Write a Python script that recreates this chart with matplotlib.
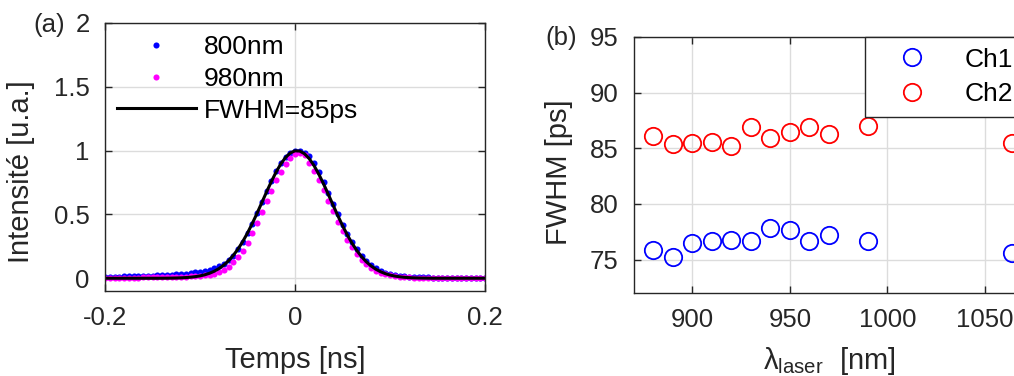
import matplotlib
matplotlib.use("Agg")
import matplotlib.pyplot as plt
import numpy as np

plt.rcParams['font.family'] = ['Liberation Sans', 'DejaVu Sans']
plt.rcParams['mathtext.default'] = 'regular'

# (a) pulse shapes, sampled every 5 ps from -0.2 to 0.2 ns
t_ns = np.round(np.arange(-0.2, 0.2001, 0.005), 3)

i_800 = [0.012, 0.012, 0.013, 0.013, 0.014, 0.015, 0.016, 0.017, 0.018, 0.019,
         0.021, 0.022, 0.024, 0.026, 0.028, 0.031, 0.034, 0.037, 0.041, 0.046,
         0.052, 0.059, 0.068, 0.079, 0.093, 0.112, 0.140, 0.178, 0.226, 0.284,
         0.352, 0.428, 0.510, 0.595, 0.680, 0.762, 0.838, 0.902, 0.952, 0.985,
         1.000, 1.000, 0.985, 0.955, 0.902, 0.833, 0.752, 0.668, 0.584, 0.500,
         0.420, 0.348, 0.283, 0.226, 0.178, 0.138, 0.105, 0.079, 0.059, 0.043,
         0.032, 0.024, 0.018, 0.014, 0.011, 0.009, 0.008, 0.007, 0.006, 0.005,
         0.005, 0.005, 0.004, 0.004, 0.004, 0.004, 0.003, 0.003, 0.003, 0.003,
         0.003]

i_980 = [0.003, 0.003, 0.003, 0.004, 0.004, 0.004, 0.005, 0.005, 0.006, 0.006,
         0.007, 0.008, 0.008, 0.009, 0.010, 0.011, 0.011, 0.013, 0.014, 0.016,
         0.018, 0.022, 0.027, 0.035, 0.046, 0.064, 0.090, 0.128, 0.168, 0.216,
         0.278, 0.352, 0.432, 0.517, 0.602, 0.686, 0.766, 0.836, 0.895, 0.942,
         0.972, 0.980, 0.962, 0.905, 0.840, 0.770, 0.690, 0.607, 0.524, 0.443,
         0.368, 0.301, 0.241, 0.188, 0.145, 0.109, 0.081, 0.059, 0.043, 0.031,
         0.022, 0.016, 0.011, 0.008, 0.006, 0.005, 0.004, 0.004, 0.004, 0.004,
         0.004, 0.004, 0.004, 0.004, 0.004, 0.004, 0.004, 0.004, 0.004, 0.004,
         0.004]

i_fit = [0.0, 0.0, 0.0, 0.0, 0.0, 0.0, 0.0, 0.0, 0.0, 0.0, 0.0, 0.0,
         0.0003, 0.0006, 0.0012, 0.0021, 0.0033, 0.0052, 0.0081, 0.0124, 0.0185,
         0.0270, 0.0389, 0.0548, 0.0758, 0.1028, 0.1368, 0.1786, 0.2287, 0.2874,
         0.3543, 0.4284, 0.5082, 0.5914, 0.6751, 0.7560, 0.8305, 0.8950, 0.9462,
         0.9814, 0.9985, 0.9965, 0.9757, 0.9372, 0.8831, 0.8163, 0.7402, 0.6584,
         0.5746, 0.4919, 0.4131, 0.3403, 0.2750, 0.2181, 0.1696, 0.1294, 0.0968,
         0.0711, 0.0512, 0.0362, 0.0251, 0.0171, 0.0114, 0.0074, 0.0048, 0.0030,
         0.0019, 0.0011, 0.0006,
         0.0, 0.0, 0.0, 0.0, 0.0, 0.0, 0.0, 0.0, 0.0, 0.0, 0.0, 0.0]

# (b) FWHM vs laser wavelength
wl = [880, 890, 900, 910, 920, 930, 940, 950, 960, 970, 990, 1064]
fwhm_ch1 = [75.9, 75.2, 76.5, 76.7, 76.8, 76.7, 77.8, 77.7, 76.7, 77.2, 76.7, 75.6]
fwhm_ch2 = [86.1, 85.4, 85.5, 85.6, 85.2, 86.9, 85.9, 86.5, 86.9, 86.3, 87.0, 85.5]

fs_tick = 18.5
fs_lab = 21
fs_leg = 19
grid_c = '#dcdcdc'
ax_c = '#262626'

fig = plt.figure(figsize=(10.14, 3.76), dpi=100)

# ---- (a)
ax1 = fig.add_axes([105/1014, 85/376, 380/1014, 268/376])
ax1.plot(t_ns, i_800, 'o', color='#0000ff', ms=4.4, mew=0, label='800nm')
ax1.plot(t_ns, i_980, 'o', color='#ff00ff', ms=4.4, mew=0, label='980nm')
ax1.plot(t_ns, i_fit, '-', color='k', lw=2.2, label='FWHM=85ps')
ax1.set_xlim(-0.2, 0.2)
ax1.set_ylim(-0.1, 2)
ax1.set_xticks([-0.2, 0, 0.2])
ax1.set_xticklabels(['-0.2', '0', '0.2'])
ax1.set_yticks([0, 0.5, 1, 1.5, 2])
ax1.set_yticklabels(['0', '0.5', '1', '1.5', '2'])
ax1.set_xlabel('Temps [ns]', fontsize=fs_lab, color=ax_c, labelpad=11)
ax1.set_ylabel('Intensité [u.a.]', fontsize=fs_lab, color=ax_c)
ax1.yaxis.set_label_coords(-0.185, 0.444)
leg1 = ax1.legend(loc='upper left', frameon=False, fontsize=fs_leg,
                  handlelength=3.0, handletextpad=0.3, labelspacing=0.3,
                  borderaxespad=0.05, bbox_to_anchor=(0.0, 1.0), numpoints=1,
                  markerscale=1.0)

# ---- (b)
ax2 = fig.add_axes([634/1014, 83/376, 390/1014, 256/376])
ax2.plot(wl, fwhm_ch1, 'o', mfc='none', mec='#0000ff', ms=12.5, mew=1.3, label='Ch1')
ax2.plot(wl, fwhm_ch2, 'o', mfc='none', mec='#ff0000', ms=12.5, mew=1.3, label='Ch2')
ax2.set_xlim(870, 1070)
ax2.set_ylim(72, 95)
ax2.set_xticks([900, 950, 1000, 1050])
ax2.set_yticks([75, 80, 85, 90, 95])
ax2.set_xlabel(r'$\lambda_{laser}$  [nm]', fontsize=fs_lab, color=ax_c, labelpad=9)
ax2.set_ylabel('FWHM [ps]', fontsize=fs_lab, color=ax_c)
ax2.yaxis.set_label_coords(-0.157, 0.473)
leg2 = ax2.legend(loc='upper right', bbox_to_anchor=(1.0, 1.0), borderaxespad=0,
                  fontsize=fs_leg, handlelength=2.8, handletextpad=0.6,
                  labelspacing=0.4, borderpad=0.4, fancybox=False,
                  edgecolor=ax_c, framealpha=1)
leg2.get_frame().set_linewidth(1.0)

for ax in (ax1, ax2):
    ax.grid(True, color=grid_c, lw=1.0)
    ax.set_axisbelow(True)
    ax.tick_params(direction='in', top=True, right=True, length=5, width=1.0,
                   colors=ax_c, labelsize=fs_tick, pad=11)
    for s in ax.spines.values():
        s.set_color(ax_c)
        s.set_linewidth(1.0)

fig.text(49/1014, 1 - 25/376, '(a)', fontsize=fs_tick, color=ax_c,
         ha='center', va='center')
fig.text(561/1014, 1 - 38/376, '(b)', fontsize=fs_tick, color=ax_c,
         ha='center', va='center')

fig.savefig('out.png', dpi=100)
plt.close(fig)
